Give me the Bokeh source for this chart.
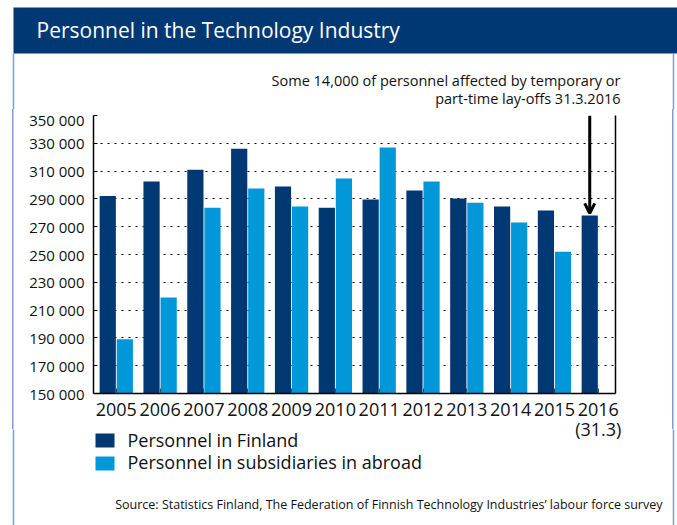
from bokeh.plotting import figure
from bokeh.layouts import column
from bokeh.models import Range1d, FixedTicker, LinearAxis, Arrow, OpenHead
from bokeh.core.properties import value
from bokeh.embed import file_html
from bokeh.resources import INLINE

# ---------------- data ----------------
years = ["2005", "2006", "2007", "2008", "2009", "2010", "2011", "2012", "2013", "2014", "2015", "2016"]
last_year_note = "(31.3)"
finland = [292000, 302500, 311000, 326000, 299000, 283700, 289500, 296000, 290200, 284500, 281600, 278000]
abroad = [189000, 219000, 283700, 297400, 284500, 304600, 327000, 302500, 287300, 273000, 252000, float("nan")]
y_ticks = [150000, 170000, 190000, 210000, 230000, 250000, 270000, 290000, 310000, 330000, 350000]
y_tick_labels = ["150 000", "170 000", "190 000", "210 000", "230 000", "250 000",
                 "270 000", "290 000", "310 000", "330 000", "350 000"]
series_names = ["Personnel in Finland", "Personnel in subsidiaries in abroad"]
title_text = "Personnel in the Technology Industry"
note_lines = ["Some 14,000 of personnel affected by temporary or", "part-time lay-offs 31.3.2016"]
source_text = "Source: Statistics Finland, The Federation of Finnish Technology Industries\u2019 labour force survey"

DARK = "#003874"
LIGHT = "#0098d8"
BORDER = "#7d9dcf"
FONT = "Open Sans"
TXT = "#111111"
W = 677
T_H, B_H = 109, 320
OVERLAP = 16                      # bottom strip lies over the chart's (transparent) lower border
C_TOP = T_H + B_H - OVERLAP
C_H = 525 - C_TOP
BASELINE_FIX = 0.42  # renderer places alphabetic baselines this many em lower


def deco_figure(height, y_top, **kw):
    f = figure(width=W, height=height, x_range=Range1d(0, W), y_range=Range1d(y_top + height, y_top),
               min_border=0, x_axis_location=None, y_axis_location=None, frame_align=False,
               toolbar_location=None, output_backend="svg", outline_line_color=None, **kw)
    for g in f.grid:
        g.visible = False
    return f


def txt(f, x, y, s, size, color=TXT, align="left"):
    f.text(x=[x], y=[y - BASELINE_FIX * size], text=[s], text_font=value(FONT),
           text_font_size=value(f"{size}px"),
           text_color=color, text_align=align, text_baseline="alphabetic")


# ---------------- top: title bar + note ----------------
T = deco_figure(T_H, 0, background_fill_color="white", border_fill_color="white")
T.quad(left=[13], right=[W], top=[7], bottom=[53], fill_color=DARK, line_color=None)
txt(T, 36, 38.3, title_text, 21, color="white")
txt(T, 620, 86, note_lines[0], 14.5, align="right")
txt(T, 620, 104.3, note_lines[1], 14.5, align="right")
T.segment(x0=[13, 673], y0=[53, 53], x1=[13, 673], y1=[T_H, T_H], line_color=BORDER, line_width=1.5)

# ---------------- middle: the chart ----------------
idx = list(range(len(years)))
x_fin = [i - 0.195 for i in idx]
x_abr = [i + 0.195 for i in idx]

B = figure(width=W, height=B_H,
           x_range=Range1d(-0.52, 11.393), y_range=Range1d(y_ticks[0], y_ticks[-1]),
           output_backend="svg", toolbar_location=None, frame_align=False,
           min_border_left=93, min_border_right=62, min_border_top=6, min_border_bottom=B_H - 6 - 278,
           background_fill_color="white", border_fill_alpha=0, outline_line_color=None,
           styles={"background-image": f"linear-gradient({BORDER}, {BORDER}), linear-gradient({BORDER}, {BORDER})",
                   "background-size": "1.5px 100%, 1.5px 100%",
                   "background-position": "12.25px 0px, 672.25px 0px",
                   "background-repeat": "no-repeat"})

r_fin = B.vbar(x=x_fin, top=finland, bottom=y_ticks[0], width=0.37, fill_color=DARK, line_color=None)
r_abr = B.vbar(x=x_abr, top=abroad, bottom=y_ticks[0], width=0.37, fill_color=LIGHT, line_color=None)

B.xgrid.visible = False
B.ygrid.ticker = FixedTicker(ticks=y_ticks)
B.ygrid.grid_line_color = "black"
B.ygrid.grid_line_dash = "2 5"
B.ygrid.grid_line_width = 1

xa = B.xaxis[0]
xa.ticker = FixedTicker(ticks=idx)
xa.major_label_overrides = {i: lab for i, lab in zip(idx, years)}
xa.major_label_text_font = FONT
xa.major_label_text_font_size = "18px"
xa.major_label_text_color = TXT
xa.major_tick_in = 5
xa.major_tick_out = 0
xa.minor_tick_line_color = None
xa.major_tick_line_color = "#444444"
xa.axis_line_color = "black"
xa.axis_line_width = 1.5
xa.major_label_standoff = 9

ya = B.yaxis[0]
ya.ticker = FixedTicker(ticks=y_ticks)
ya.major_label_overrides = {v: s for v, s in zip(y_ticks, y_tick_labels)}
ya.major_label_text_font = FONT
ya.major_label_text_font_size = "15px"
ya.major_label_text_color = TXT
ya.major_tick_in = 4
ya.major_tick_out = 0
ya.minor_tick_line_color = None
ya.major_tick_line_color = "black"
ya.axis_line_color = "black"
ya.axis_line_width = 1.5
ya.major_label_standoff = 9

ra = LinearAxis(ticker=FixedTicker(ticks=[]), major_label_text_font_size="0px",
                major_tick_line_color=None, minor_tick_line_color=None,
                axis_line_color="black", axis_line_width=1.5)
B.add_layout(ra, "right")

B.add_layout(Arrow(x_start=x_fin[-1], y_start=y_ticks[-1], x_end=x_fin[-1], y_end=finland[-1] + 1600,
                   line_width=3, line_color="black",
                   end=OpenHead(size=10, line_width=3, line_color="black")))

# ---------------- bottom: year note, legend, source ----------------
C = deco_figure(C_H, C_TOP, background_fill_alpha=0, border_fill_alpha=0,
                styles={"margin-top": f"-{OVERLAP}px"})
# x position of the 2016 group in page pixels (same scale as the chart above)
px_per_unit = (W - 93 - 62) / (11.393 + 0.52)
x_2016 = 93 + (idx[-1] + 0.52) * px_per_unit
txt(C, x_2016, 436.5, last_year_note, 18, align="center")
C.quad(left=[95, 95], right=[114, 114], top=[433, 456], bottom=[447, 470],
       fill_color=[DARK, LIGHT], line_color=None)
txt(C, 127, 447, series_names[0], 18)
txt(C, 127, 469.5, series_names[1], 18)
txt(C, 662, 509, source_text, 12.5, align="right")
C.segment(x0=[13, 673], y0=[T_H + B_H, T_H + B_H], x1=[13, 673], y1=[525, 525],
          line_color=BORDER, line_width=1.5)

layout = column(T, B, C, spacing=0)
open("out.html", "w").write(file_html(layout, INLINE))
